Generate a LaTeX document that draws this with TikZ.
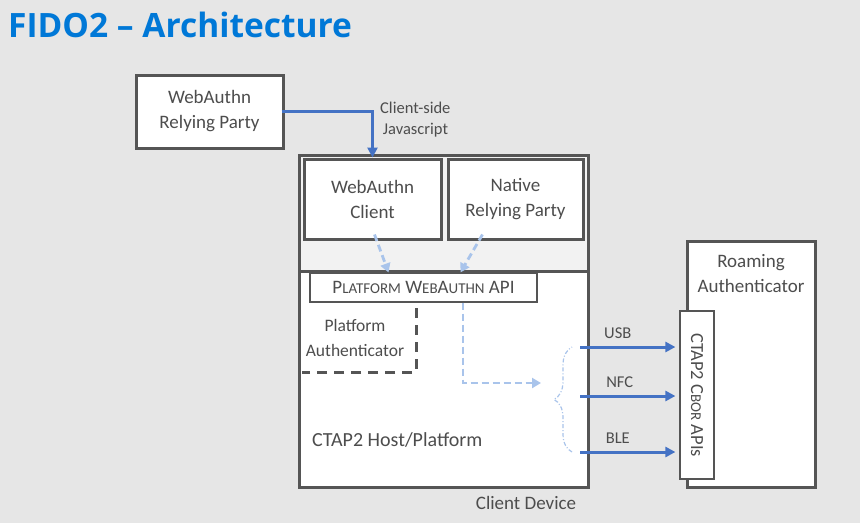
\documentclass[tikz,border=0pt]{standalone}
\usepackage{fontspec}
\setmainfont{Carlito}
\newfontfamily\titlefont{Open Sans}
\usepackage{xcolor}
\usetikzlibrary{arrows.meta,decorations.pathreplacing}
\definecolor{bgGray}{HTML}{E6E6E6}
\definecolor{trayGray}{HTML}{F2F2F2}
\definecolor{boxLine}{HTML}{555555}
\definecolor{txtGray}{HTML}{4D4D4D}
\definecolor{fidoBlue}{HTML}{0078D7}
\definecolor{linkBlue}{HTML}{4472C4}
\definecolor{paleBlue}{HTML}{A9C4EB}
\newcommand{\smc}[1]{{\fontsize{15}{17}\selectfont #1}}
\tikzset{
    plain-box/.style = {draw=boxLine, fill=white, line width=3pt, rectangle, align=center, inner sep=0pt, text=txtGray, font=\fontsize{19}{25}\selectfont},
    api-box/.style = {draw=boxLine, fill=white, line width=1.2pt, rectangle, inner sep=0pt, text=txtGray, font=\fontsize{19}{22}\selectfont},
    plain-text/.style = {text=txtGray, align=center, inner sep=0pt, font=\fontsize{19}{25}\selectfont},
    small-text/.style = {text=txtGray, align=left, inner sep=0pt, font=\fontsize{16.5}{21}\selectfont},
    link-arrow/.style = {draw=linkBlue, line width=3pt, -{Triangle[length=10pt,width=10pt]}},
    pale-arrow/.style = {draw=paleBlue, line width=2.8pt, dash pattern=on 7pt off 4pt, -{Triangle[length=9pt,width=10pt]}},
    auth-edge/.style = {draw=boxLine, line width=3pt, dash pattern=on 10pt off 7pt},
    pale-brace/.style = {draw=paleBlue, line width=1.2pt, dash pattern=on 4pt off 2pt on 1pt off 2pt, decorate, decoration={brace, amplitude=18pt}},
}

\begin{document}
\begin{tikzpicture}[x=1pt, y=-1pt]
\fill[bgGray] (0,0) rectangle (860,523);
\useasboundingbox (0,0) rectangle (860,523);

\node[anchor=base west, inner sep=0pt, text=fidoBlue, font=\titlefont\bfseries\fontsize{33.5}{40}\selectfont] (title) at (8,37) {FIDO2 – Architecture};

% relying party and client device
\node[plain-box, minimum width=147pt, minimum height=73pt] (rp) at (209.5,111.5) {WebAuthn\\Relying Party};
\node[plain-box, minimum width=289pt, minimum height=332pt] (device) at (443.5,321) {};
\node[plain-box, fill=trayGray, minimum width=289pt, minimum height=116pt] (tray) at (443.5,213) {};
\node[plain-box, minimum width=137pt, minimum height=80pt] (client) at (372.5,199) {WebAuthn\\Client};
\node[plain-box, minimum width=135pt, minimum height=80pt] (native) at (515.5,199) {Native\\Relying Party};
\node[api-box, minimum width=227pt, minimum height=29pt] (api) at (423.5,287.5) {P\smc{LATFORM} W\smc{EB}A\smc{UTHN} API};

\node[plain-text, font=\fontsize{17.5}{25}\selectfont] (pauth) at (355,338) {Platform\\Authenticator};
\draw[auth-edge] (416,308) -- (416,372) -- (302,372);
\node[plain-text, anchor=west, font=\fontsize{20}{25}\selectfont] (host) at (312,440) {CTAP2 Host/Platform};
\node[plain-text, font=\fontsize{19}{25}\selectfont] (devlabel) at (526,503) {Client Device};

% roaming authenticator
\node[plain-box, minimum width=128pt, minimum height=246pt] (roam) at (751,364) {};
\node[plain-text] (roamlabel) at (751,274) {Roaming\\Authenticator};
\node[api-box, rotate=-90, minimum width=168pt, minimum height=34pt, font=\fontsize{18.5}{22}\selectfont] (cbor) at (697,395) {CTAP2 C\smc{BOR} APIs};

% links
\draw[link-arrow] ([xshift=-3pt]rp.east) -| (client.north);
\node[small-text, anchor=west] (jslabel) at (380,120) {Client-side\\\,Javascript};

\draw[pale-arrow] ([xshift=2pt,yshift=6pt]client.south) -- ([xshift=-35pt]api.north);
\draw[pale-arrow] ([xshift=-33pt,yshift=6pt]native.south) -- ([xshift=37pt]api.north);

\coordinate (fork) at (541,383);
\draw[pale-arrow] ([xshift=39.5pt]api.south) |- (fork);
\coordinate (bracetop) at (572,347);
\coordinate (bracebot) at (572,452);
\draw[pale-brace] (bracebot) -- (bracetop);

\coordinate (usb) at (580,347);
\coordinate (nfc) at (580,396);
\coordinate (ble) at (580,452);
\draw[link-arrow, shorten >=4pt] (usb) -- (cbor.south |- usb) node[small-text, above=7pt, pos=0.38] (usblabel) {USB};
\draw[link-arrow, shorten >=4pt] (nfc) -- (cbor.south |- nfc) node[small-text, above=7pt, pos=0.4] (nfclabel) {NFC};
\draw[link-arrow, shorten >=4pt] (ble) -- (cbor.south |- ble) node[small-text, above=7pt, pos=0.38] (blelabel) {BLE};
\end{tikzpicture}
\end{document}
